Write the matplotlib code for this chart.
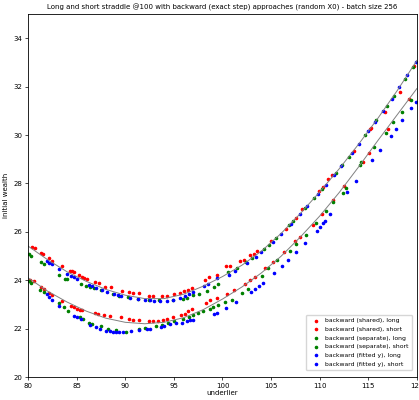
import numpy as np
import matplotlib
matplotlib.use('Agg')
import matplotlib.pyplot as plt

# exact long / short straddle values (grey lines)
grid = [80, 82, 84, 86, 88, 90, 92, 94, 96, 98, 100, 102, 104, 106, 108, 110, 112, 114, 116, 118, 120]
exact_long = [25.41, 24.85, 24.35, 23.95, 23.62, 23.38, 23.24, 23.24, 23.42, 23.75, 24.15,
              24.62, 25.2, 25.92, 26.75, 27.65, 28.6, 29.62, 30.7, 31.85, 33.08]
exact_short = [24.1, 23.55, 23.1, 22.72, 22.43, 22.26, 22.2, 22.26, 22.45, 22.78, 23.22,
               23.72, 24.3, 24.98, 25.78, 26.65, 27.62, 28.68, 29.78, 30.85, 31.92]

# backward (shared)
shared_long_x = [80.4, 80.7, 81.3, 81.5, 82.2, 82.5, 83.5, 84.3, 84.5, 84.7, 85.2, 85.5, 85.8, 86.1,
                 86.9, 87.3, 87.9, 88.5, 89.7, 90.4, 90.8, 91.4, 92.4, 92.9, 93.8, 94.3, 95.0, 95.6,
                 96.0, 96.5, 96.9, 98.2, 98.6, 99.4, 100.4, 100.8, 101.8, 102.2, 102.8, 103.2, 103.6,
                 105.0, 106.5, 107.6, 108.2, 109.9, 110.3, 110.9, 111.3, 113.5, 115.2, 115.3, 116.7,
                 118.3, 119.7]
shared_long_y = [25.38, 25.32, 25.13, 25.1, 24.91, 24.81, 24.58, 24.40, 24.36, 24.33, 24.2, 24.12, 24.08,
                 24.05, 23.91, 23.87, 23.7, 23.72, 23.55, 23.5, 23.48, 23.46, 23.36, 23.36, 23.35, 23.36,
                 23.44, 23.48, 23.55, 23.6, 23.66, 24.0, 24.13, 24.22, 24.58, 24.6, 24.78, 24.85, 25.06,
                 25.1, 25.2, 25.61, 26.13, 26.58, 26.93, 27.69, 27.85, 28.17, 28.35, 29.35, 30.25, 30.3,
                 30.94, 31.77, 32.85]
shared_short_x = [80.2, 80.6, 81.3, 81.6, 82.2, 82.5, 83.5, 84.4, 84.7, 85.0, 85.3, 85.5, 86.9, 87.2,
                  87.8, 88.4, 89.6, 90.4, 90.8, 91.4, 92.4, 92.9, 93.4, 93.9, 94.3, 94.9, 95.7, 96.1,
                  96.5, 96.9, 98.3, 98.7, 99.4, 100.5, 101.2, 102.3, 102.8, 103.3, 104.4, 105.2, 106.3,
                  107.5, 108.0, 109.3, 110.2, 111.4, 112.5, 114.5, 115.1, 117.0, 119.2]
shared_short_y = [24.02, 23.95, 23.71, 23.62, 23.46, 23.38, 23.15, 22.95, 22.9, 22.83, 22.78, 22.77,
                  22.64, 22.62, 22.56, 22.52, 22.46, 22.39, 22.37, 22.35, 22.32, 22.33, 22.33, 22.37,
                  22.4, 22.5, 22.57, 22.62, 22.74, 22.8, 23.07, 23.2, 23.25, 23.45, 23.6, 23.85, 24.0,
                  24.15, 24.5, 24.75, 25.15, 25.6, 25.8, 26.3, 26.75, 27.3, 27.9, 28.9, 29.25, 30.25,
                  31.5]

# backward (separate)
separate_long_x = [80.1, 80.3, 81.3, 81.6, 83.2, 83.8, 84.0, 85.4, 86.0, 86.4, 86.8, 87.5, 88.7, 89.4,
                   90.3, 91.3, 92.4, 93.5, 94.9, 95.9, 96.3, 97.0, 97.6, 98.4, 99.1, 99.5, 100.6,
                   101.5, 102.4, 103.0, 104.3, 104.8, 105.5, 106.8, 107.3, 108.5, 109.4, 110.2, 111.7,
                   112.3, 113.0, 114.7, 115.8, 116.9, 117.6, 118.8, 119.6]
separate_long_y = [25.09, 24.99, 24.74, 24.65, 24.22, 24.07, 24.04, 23.85, 23.78, 23.72, 23.66, 23.61,
                   23.43, 23.33, 23.29, 23.24, 23.2, 23.18, 23.2, 23.22, 23.28, 23.37, 23.45, 23.54,
                   23.7, 23.85, 24.32, 24.5, 24.75, 24.9, 25.3, 25.47, 25.73, 26.27, 26.45, 26.98,
                   27.38, 27.75, 28.45, 28.75, 29.1, 29.98, 30.6, 31.2, 31.62, 32.32, 32.8]
separate_short_x = [80.1, 80.3, 81.2, 81.6, 83.2, 83.7, 84.1, 85.3, 85.6, 86.3, 86.6, 87.5, 88.2, 89.0,
                    90.1, 91.4, 92.0, 93.2, 93.8, 94.4, 95.0, 95.9, 96.6, 97.0, 97.5, 98.0, 98.7, 99.0,
                    99.5, 100.3, 101.0, 102.0, 102.6, 104.1, 104.7, 105.6, 106.9, 107.6, 108.6, 109.6,
                    110.6, 111.4, 112.4, 112.7, 114.1, 114.3, 115.6, 116.8, 117.5, 118.5, 119.4]
separate_short_y = [23.98, 23.87, 23.61, 23.5, 23.06, 22.88, 22.74, 22.46, 22.4, 22.23, 22.18, 22.09,
                    21.98, 21.93, 21.88, 21.98, 22.02, 22.12, 22.16, 22.23, 22.3, 22.41, 22.5, 22.57,
                    22.63, 22.71, 22.82, 22.9, 22.96, 23.08, 23.2, 23.47, 23.65, 24.16, 24.5, 24.82,
                    25.2, 25.5, 25.85, 26.35, 26.85, 27.25, 27.62, 27.8, 28.78, 28.88, 29.5, 30.1,
                    30.55, 30.95, 31.45]

# backward (fitted y)
fitted_long_x = [81.9, 82.2, 82.5, 83.2, 84.0, 84.4, 84.7, 85.0, 86.3, 86.6, 87.0, 87.6, 88.1, 88.8,
                 89.2, 89.6, 90.5, 91.3, 92.0, 92.5, 93.0, 93.6, 94.3, 94.9, 95.6, 96.1, 96.6, 97.0,
                 98.1, 98.5, 99.4, 100.7, 101.3, 102.5, 103.4, 104.0, 105.2, 106.0, 107.0, 108.0,
                 108.7, 109.8, 110.6, 111.5, 112.2, 113.3, 114.0, 115.0, 115.7, 116.5, 117.4, 118.2,
                 119.0, 119.9]
fitted_long_y = [24.81, 24.73, 24.65, 24.48, 24.27, 24.19, 24.12, 24.07, 23.82, 23.74, 23.66, 23.58,
                 23.53, 23.44, 23.4, 23.35, 23.25, 23.22, 23.2, 23.17, 23.15, 23.12, 23.14, 23.17,
                 23.27, 23.35, 23.43, 23.5, 23.75, 23.85, 24.1, 24.22, 24.36, 24.7, 24.97, 25.15,
                 25.58, 25.9, 26.32, 26.74, 27.05, 27.55, 27.95, 28.36, 28.7, 29.25, 29.62, 30.16,
                 30.52, 30.98, 31.5, 31.97, 32.46, 33.02]
fitted_short_x = [81.9, 82.2, 82.5, 83.2, 84.7, 85.0, 85.4, 86.4, 87.0, 87.4, 88.0, 88.4, 88.7, 89.0,
                  89.4, 89.8, 90.6, 91.4, 92.2, 92.5, 93.7, 94.0, 94.6, 95.2, 95.8, 96.3, 96.7, 97.0,
                  99.1, 99.4, 100.4, 101.4, 102.9, 103.3, 103.8, 104.2, 105.3, 106.1, 106.7, 107.6,
                  108.5, 109.7, 110.0, 110.3, 110.5, 111.1, 112.8, 113.7, 115.4, 116.2, 117.3, 117.8,
                  118.5, 119.4, 119.9]
fitted_short_y = [23.43, 23.3, 23.17, 22.95, 22.54, 22.47, 22.39, 22.14, 22.05, 21.98, 21.92, 21.9,
                  21.88, 21.88, 21.88, 21.88, 21.9, 21.93, 21.98, 21.99, 22.07, 22.1, 22.2, 22.22,
                  22.25, 22.3, 22.34, 22.36, 22.61, 22.63, 22.85, 23.1, 23.5, 23.62, 23.75, 23.9,
                  24.28, 24.58, 24.84, 25.15, 25.55, 26.05, 26.2, 26.35, 26.45, 26.75, 27.65, 28.1,
                  28.95, 29.4, 29.95, 30.25, 30.6, 31.1, 31.35]

fs = 5.0
fig = plt.figure(figsize=(4.19, 4.0), dpi=100)
ax = fig.add_axes([0.067, 0.0575, 0.928, 0.9075])

ax.plot(grid, exact_long, color='gray', lw=0.7)
ax.plot(grid, exact_short, color='gray', lw=0.7)

ms = 2.5
ax.scatter(shared_long_x, shared_long_y, s=ms, c='r', label='backward (shared), long')
ax.scatter(shared_short_x, shared_short_y, s=ms, c='r', label='backward (shared), short')
ax.scatter(separate_long_x, separate_long_y, s=ms, c='g', label='backward (separate), long')
ax.scatter(separate_short_x, separate_short_y, s=ms, c='g', label='backward (separate), short')
ax.scatter(fitted_long_x, fitted_long_y, s=ms, c='b', label='backward (fitted y), long')
ax.scatter(fitted_short_x, fitted_short_y, s=ms, c='b', label='backward (fitted y), short')

ax.set_xlim(80, 120)
ax.set_ylim(20, 35)
ax.set_xticks([80, 85, 90, 95, 100, 105, 110, 115, 120])
ax.set_yticks([20, 22, 24, 26, 28, 30, 32, 34])
ax.tick_params(labelsize=fs, length=2, width=0.5, pad=2)
for s in ax.spines.values():
    s.set_linewidth(0.6)
ax.set_xlabel('underlier', fontsize=fs, labelpad=1)
ax.set_ylabel('initial wealth', fontsize=fs, labelpad=3)
ax.set_title('Long and short straddle @100 with backward (exact step) approaches (random X0) - batch size 256',
             fontsize=fs, pad=3)
ax.legend(loc='lower right', fontsize=4.4, scatterpoints=1, markerscale=1.0,
          handletextpad=0.5, borderpad=0.6, labelspacing=0.55, framealpha=0.8,
          bbox_to_anchor=(0.996, 0.01))

fig.savefig('out.png', dpi=100)
